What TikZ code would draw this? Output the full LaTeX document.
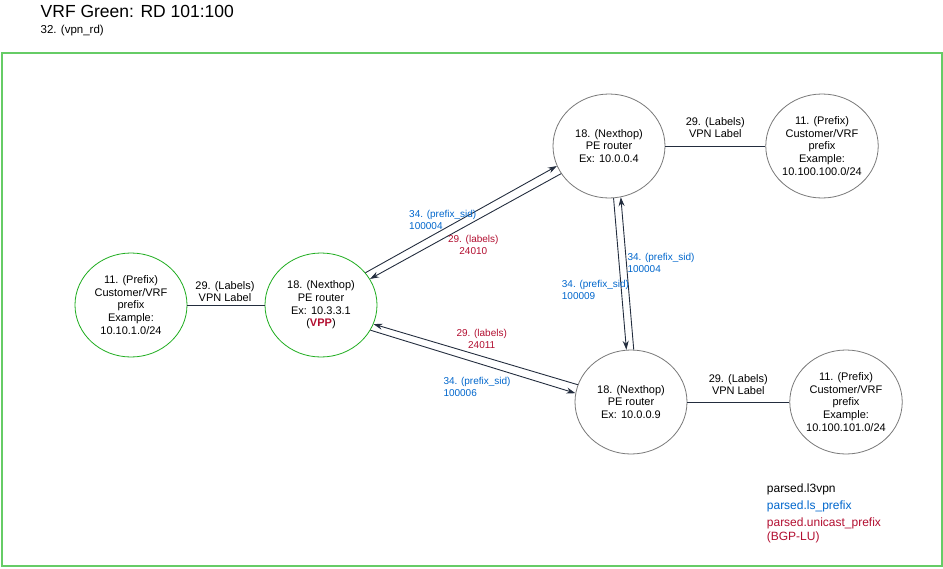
\documentclass[tikz,border=0pt]{standalone}
\usepackage{fontspec}
\setmainfont{Liberation Sans}
\usetikzlibrary{shapes.geometric,arrows.meta}

\definecolor{framegreen}{RGB}{102,204,102}
\definecolor{vrfgreen}{RGB}{30,172,30}
\definecolor{sitegray}{RGB}{120,120,120}
\definecolor{linkcol}{RGB}{35,45,62}
\definecolor{sidblue}{RGB}{0,102,204}
\definecolor{lured}{RGB}{178,14,48}

\begin{document}
\begin{tikzpicture}[x=1pt, y=-1pt,
  site/.style={ellipse, draw=sitegray, line width=0.8pt, minimum width=112pt,
    minimum height=104pt, inner sep=0pt, align=center,
    font=\fontsize{11}{12.7}\selectfont},
  vrfsite/.style={site, draw=vrfgreen},
  link/.style={draw=linkcol, line width=0.9pt},
  adv/.style={link, -{Stealth[length=9pt,width=6pt]}},
  vpnlbl/.style={align=center, inner sep=0pt, font=\fontsize{11}{12.5}\selectfont},
  sidlbl/.style={align=left, anchor=west, inner sep=0pt, text=sidblue,
    font=\fontsize{10}{12}\selectfont},
  lulbl/.style={align=center, inner sep=0pt, text=lured,
    font=\fontsize{10}{12}\selectfont},
  legend/.style={anchor=base west, inner sep=0pt, font=\fontsize{12}{14}\selectfont}]

\useasboundingbox (0,0) rectangle (943,568);

% title
\node[anchor=base west, inner sep=0pt, font=\fontsize{17.5}{20}\selectfont] (title) at (40.5,17.5) {VRF Green: RD 101:100};
\node[anchor=base west, inner sep=0pt, font=\fontsize{11.5}{13}\selectfont] (rd) at (40.5,33.3) {32. (vpn\_rd)};

% VRF frame
\path[draw=framegreen, line width=2pt] (1.5,53) rectangle (941.5,566);

% sites
\node[vrfsite] (pfxA) at (131,305) {11. (Prefix)\\Customer/VRF\\prefix\\Example:\\10.10.1.0/24};
\node[vrfsite] (peB) at (321,305) {18. (Nexthop)\\PE router\\Ex: 10.3.3.1\\(\textcolor{lured}{\textbf{VPP}})};
\node[site] (peC) at (609,146) {18. (Nexthop)\\PE router\\Ex: 10.0.0.4};
\node[site] (pfxD) at (822,146) {11. (Prefix)\\Customer/VRF\\prefix\\Example:\\10.100.100.0/24};
\node[site] (peE) at (631,402) {18. (Nexthop)\\PE router\\Ex: 10.0.0.9};
\node[site] (pfxF) at (846,402) {11. (Prefix)\\Customer/VRF\\prefix\\Example:\\10.100.101.0/24};

% vpn labels
\path[link] (pfxA) -- (peB);
\path[link] (peC) -- (pfxD);
\path[link] (peE) -- (pfxF);
\node[vpnlbl] (vlA) at (225,291.5) {29. (Labels)\\VPN Label};
\node[vpnlbl] (vlD) at (715.3,127.7) {29. (Labels)\\VPN Label};
\node[vpnlbl] (vlF) at (738.3,384.8) {29. (Labels)\\VPN Label};

% prefix sids and bgp-lu labels
\path[adv] (peB.36) -- (peC.201);
\path[adv] (peC.210) -- (peB.28);
\path[adv] (peE.162) -- (peB.340);
\path[adv] (peB.333) -- (peE.171);
\path[adv] (peC.275) -- (peE.95);
\path[adv] (peE.87) -- (peC.283);

\node[sidlbl] (sidBC) at (409,219.5) {34. (prefix\_sid)\\100004};
\node[lulbl] (luBC) at (473.3,244.5) {29. (labels)\\24010};
\node[lulbl] (luBE) at (481.7,339.2) {29. (labels)\\24011};
\node[sidlbl] (sidBE) at (443.3,386.6) {34. (prefix\_sid)\\100006};
\node[sidlbl] (sidEC) at (627.3,262.5) {34. (prefix\_sid)\\100004};
\node[sidlbl] (sidCE) at (561.7,290.2) {34. (prefix\_sid)\\100009};

% legend
\node[legend] (lgA) at (766.7,492) {parsed.l3vpn};
\node[legend, text=sidblue] (lgB) at (766.7,509) {parsed.ls\_prefix};
\node[legend, text=lured] (lgC) at (766.7,526.5) {parsed.unicast\_prefix};
\node[legend, text=lured] (lgD) at (766.7,540) {(BGP-LU)};

\end{tikzpicture}
\end{document}
